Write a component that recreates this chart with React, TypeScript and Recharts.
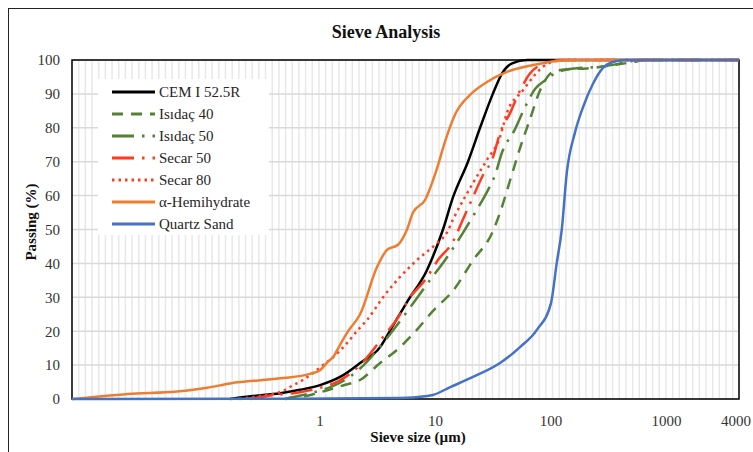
import { CartesianGrid, Legend, Line, LineChart, ReferenceArea, XAxis, YAxis } from "recharts";

const FONT = '"Liberation Serif", "Times New Roman", serif';
const X_MIN = 0.0071;
const X_MAX = 4250;
const X_TICKS = [1, 10, 100, 1000, 4000];
const Y_TICKS = [0, 10, 20, 30, 40, 50, 60, 70, 80, 90, 100];

// [sieve size µm, passing %]
const CEM = [[0.166, 0], [0.25, 0.8], [0.45, 1.7], [0.67, 2.7], [1, 4.1], [1.49, 6.5], [2.22, 10.6],
  [3.31, 15.3], [4.04, 20.2], [5.66, 28.6], [8.42, 38], [11.6, 50], [14.2, 59.6], [19.1, 70],
  [24.3, 80], [31.6, 90.3], [37.6, 96], [46, 99], [62, 100], [4250, 100]];
const ISIDAC40 = [[0.5, 0], [0.58, 0.5], [0.67, 0.6], [1, 2], [1.58, 4], [2.22, 5.6], [3.31, 10.6],
  [4.64, 14.5], [6.64, 19.8], [9.51, 26], [14.2, 32], [21.2, 41], [30.9, 49], [36.2, 55],
  [44.3, 64.6], [53.9, 74], [65.7, 82.5], [80.3, 91], [104, 96.5], [137, 97.3], [205, 97.5],
  [345, 98.5], [515, 99.4], [654, 100], [4250, 100]];
const ISIDAC50 = [[0.5, 0], [0.58, 0.5], [1, 2.5], [1.49, 4.8], [2.22, 9], [3.8, 18], [4.93, 23],
  [6.64, 29], [8.93, 35], [12.1, 41], [16.9, 48.5], [21.6, 54.5], [26.8, 60], [32.7, 66],
  [37.9, 73], [47.8, 79], [59.4, 86], [73, 91.5], [89, 94], [108, 96], [161, 97.5], [265, 98],
  [435, 99.2], [590, 100], [4250, 100]];
const SECAR50 = [[0.25, 0], [0.37, 1], [0.67, 2], [1, 3.3], [1.49, 5.5], [2.22, 10], [3.51, 18.3],
  [4.73, 24], [6.0, 30], [8.1, 35], [10.5, 41], [14.2, 46.5], [17.3, 53], [21.1, 59.6],
  [25.3, 65.5], [31.5, 71.4], [36.2, 78.5], [44.3, 84.4], [53.9, 91], [65.7, 96], [80.3, 98.5],
  [98, 99.5], [120, 100], [4250, 100]];
const SECAR80 = [[0.2, 0], [0.3, 0.9], [0.45, 2], [0.58, 4], [0.71, 5.6], [0.87, 7.7], [1.06, 10],
  [1.3, 12.4], [1.71, 16.5], [2.13, 20.4], [2.55, 23.3], [3.51, 30], [4.93, 36], [6.91, 41],
  [10.3, 46], [12.5, 49], [14.2, 53], [21.1, 63.7], [27.8, 70.5], [36.2, 77.3], [41.5, 84.4],
  [57, 91], [70, 95], [85, 98], [104, 99.5], [140, 100], [4250, 100]];
const HEMIHYDRATE = [[0.0071, 0], [0.009, 0.3], [0.0216, 1.5], [0.0578, 2.2], [0.105, 3.3],
  [0.166, 4.6], [0.451, 6.1], [0.82, 7.4], [1, 8.5], [1.17, 11], [1.3, 12.4], [1.49, 16],
  [1.75, 20], [2.22, 25], [3.12, 39], [3.8, 44], [4.73, 45.5], [5.66, 50], [6.38, 55],
  [8.11, 58.7], [10.3, 68], [12.1, 76], [14.8, 84], [19.9, 89.7], [27.9, 93.5], [41.5, 96.5],
  [69.9, 98.5], [112, 99.7], [161, 100], [4250, 100]];
const QUARTZ = [[0.0071, 0], [0.67, 0.1], [4.93, 0.3], [8.1, 0.8], [9.5, 1.2], [13.4, 3.5],
  [21.1, 6.5], [36.2, 10.6], [53.9, 15.3], [75.5, 20.4], [100, 28.3], [112, 40], [124, 50],
  [137, 66.7], [161, 78.5], [189, 86], [231, 93], [281, 97.6], [343, 99.4], [437, 100],
  [4250, 100]];

const SERIES = [
  { name: "CEM I 52.5R", color: "#000000", dash: undefined, data: CEM },
  { name: "Isıdaç 40", color: "#548235", dash: "11 8", data: ISIDAC40 },
  { name: "Isıdaç 50", color: "#548235", dash: "22 8 2.5 8", data: ISIDAC50 },
  { name: "Secar 50", color: "#FF3C1E", dash: "22 8 2.5 8", data: SECAR50 },
  { name: "Secar 80", color: "#FF3C1E", dash: "2.5 4", data: SECAR80 },
  { name: "α-Hemihydrate", color: "#ED7D31", dash: undefined, data: HEMIHYDRATE },
  { name: "Quartz Sand", color: "#4472C4", dash: undefined, data: QUARTZ },
];

// minor vertical grid, evenly spaced on the log axis
const GRID_STEP = Math.pow(10, 1 / 17.3);
const GRID_SIZES: number[] = [];
for (let s = X_MIN * GRID_STEP; s < X_MAX; s *= GRID_STEP) GRID_SIZES.push(s);

const tickStyle = { fill: "#333", fontSize: 15, fontFamily: FONT };

function SieveLegend() {
  return (
    <div style={{ background: "#fff", width: 171, height: 156, paddingTop: 2, boxSizing: "border-box",
                  fontFamily: FONT, fontSize: 15, color: "#262626" }}>
      {SERIES.map((s) => (
        <div key={s.name} style={{ display: "flex", alignItems: "center", height: 22 }}>
          <svg width={57} height={22}>
            <line x1={14} x2={57} y1={11} y2={11} stroke={s.color} strokeWidth={3}
                  strokeDasharray={s.dash} />
          </svg>
          <span style={{ marginLeft: 4, whiteSpace: "nowrap" }}>{s.name}</span>
        </div>
      ))}
    </div>
  );
}

export default function App() {
  return (
    <div style={{ width: 753, height: 452, padding: 8, boxSizing: "border-box", overflow: "hidden" }}>
      <style>{`body{margin:0}`}</style>
      <div style={{ position: "relative", width: 745, height: 444, fontFamily: FONT }}>
        <div style={{ position: "absolute", left: 0, top: 0, right: 0, bottom: 0,
                      borderTop: "1.5px solid #222", borderLeft: "1.5px solid #222", pointerEvents: "none" }} />
        <div style={{ position: "absolute", left: 278, width: 200, top: 14, textAlign: "center",
                      fontWeight: "bold", fontSize: 18, color: "#111" }}>Sieve Analysis</div>
        <div style={{ position: "absolute", left: 310, width: 200, top: 421, textAlign: "center",
                      fontWeight: "bold", fontSize: 15, color: "#111" }}>Sieve size (µm)</div>
        <div style={{ position: "absolute", left: 23, top: 214, transform: "translate(-50%, -50%) rotate(-90deg)",
                      whiteSpace: "nowrap", fontWeight: "bold", fontSize: 15, color: "#111" }}>Passing (%)</div>
        <LineChart width={745} height={444} margin={{ top: 52, right: 14, left: 0, bottom: 23 }}
                   style={{ position: "absolute", left: 0, top: 0 }}>
          <CartesianGrid xAxisId="grid" horizontal={false} stroke="#E8E8E8" strokeWidth={1.5} />
          <CartesianGrid vertical={false} stroke="#D9D9D9" strokeWidth={1.5} />
          <XAxis xAxisId="grid" type="number" dataKey="size" scale="log" domain={[X_MIN, X_MAX]}
                 allowDataOverflow ticks={GRID_SIZES} interval={0} hide />
          <XAxis type="number" dataKey="size" scale="log" domain={[X_MIN, X_MAX]} allowDataOverflow
                 ticks={X_TICKS} interval={0} tick={tickStyle} tickLine={false} axisLine={false}
                 tickMargin={10} height={30} />
          <YAxis type="number" domain={[0, 100]} ticks={Y_TICKS} tick={tickStyle} tickLine={false}
                 axisLine={false} tickMargin={6} width={64} />
          <ReferenceArea x1={X_MIN} x2={X_MAX} y1={0} y2={100} fill="none" stroke="#000" strokeWidth={1.5} />
          <Legend layout="vertical" align="center" verticalAlign="middle" content={() => <SieveLegend />}
                  wrapperStyle={{ left: 90, top: 71, width: 171, height: 156 }} />
          {SERIES.map((s) => (
            <Line key={s.name} name={s.name} data={s.data.map(([size, pass]) => ({ size, pass }))}
                  dataKey="pass" type="monotone" stroke={s.color} strokeWidth={2.5}
                  strokeDasharray={s.dash} dot={false} activeDot={false} isAnimationActive={false} />
          ))}
        </LineChart>
      </div>
    </div>
  );
}
